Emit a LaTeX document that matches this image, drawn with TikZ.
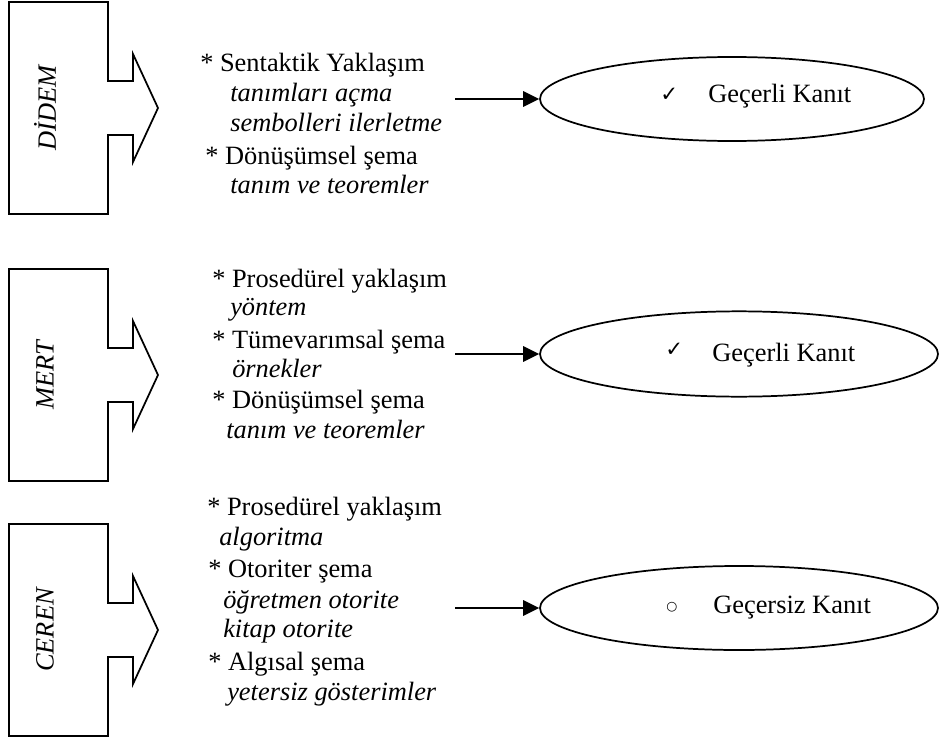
\documentclass[tikz,border=0pt]{standalone}
\usepackage{fontspec}
\setmainfont{Liberation Serif}
\newfontfamily\dejavu{DejaVu Sans}
\newfontfamily\dejavubold{DejaVu Sans Bold}
\usetikzlibrary{shapes.geometric,arrows.meta}
\begin{document}
\begin{tikzpicture}[x=0.75pt,y=-0.75pt,
  ln/.style={anchor=base west, inner sep=0pt, font=\fontsize{19.8}{22}\selectfont},
  itl/.style={anchor=base west, inner sep=0pt, font=\fontsize{19.8}{22}\selectfont\itshape},
  namelbl/.style={rotate=90, inner sep=0pt, font=\fontsize{19.8}{22}\selectfont\itshape},
  shapeline/.style={draw=black, line width=1.3pt, line join=miter},
  result/.style={draw=black, line width=1.3pt, ellipse, inner sep=0pt, minimum height=63pt},
  conn/.style={draw=black, line width=1.7pt, -{Triangle[length=12pt,width=11.5pt]}},
  tickmark/.style={anchor=west, inner sep=0pt, font=\dejavubold\fontsize{16}{18}\selectfont},
  ringmark/.style={anchor=west, inner sep=0pt, font=\dejavu\fontsize{9.5}{11}\selectfont},
  blockarrow/.pic={\draw[shapeline] (9,-106) -- (108,-106) -- (108,-27) -- (133,-27) -- (133,-54) -- (158,0) -- (133,54) -- (133,27) -- (108,27) -- (108,106) -- (9,106) -- cycle;}
]
\useasboundingbox (0,0) rectangle (939,742);

% ---------- blocks ----------
\pic at (0,108) {blockarrow};
\pic at (0,375) {blockarrow};
\pic at (0,630) {blockarrow};
\node[namelbl] (nD) at (45,108) {DİDEM};
\node[namelbl] (nM) at (45,375) {MERT};
\node[namelbl] (nC) at (45,630) {CEREN};

% ---------- DİDEM texts ----------
\node[ln]  (d1) at (200,72)  {* Sentaktik Yaklaşım};
\node[itl] (d2) at (230,102) {tanımları açma};
\node[itl] (d3) at (230,132) {sembolleri ilerletme};
\node[ln]  (d4) at (205,164) {* Dönüşümsel şema};
\node[itl] (d5) at (230,193) {tanım ve teoremler};

% ---------- MERT texts ----------
\node[ln]  (m1) at (212,287) {* Prosedürel yaklaşım};
\node[itl] (m2) at (230,315) {yöntem};
\node[ln]  (m3) at (212,348) {* Tümevarımsal şema};
\node[itl] (m4) at (232,377) {örnekler};
\node[ln]  (m5) at (212,408) {* Dönüşümsel şema};
\node[itl] (m6) at (226,438) {tanım ve teoremler};

% ---------- CEREN texts ----------
\node[ln]  (c1) at (207,515) {* Prosedürel yaklaşım};
\node[itl] (c2) at (219,545) {algoritma};
\node[ln]  (c3) at (208,577) {* Otoriter şema};
\node[itl] (c4) at (223,608) {öğretmen otorite};
\node[itl] (c5) at (223,637) {kitap otorite};
\node[ln]  (c6) at (208,670) {* Algısal şema};
\node[itl] (c7) at (227,700) {yetersiz gösterimler};

% ---------- result ellipses ----------
\node[result, minimum width=288pt] (e1) at (732,99) {};
\node[result, minimum width=298.5pt, minimum height=64pt] (e2) at (739,354) {};
\node[result, minimum width=298.5pt] (e3) at (739,608) {};

\node[tickmark] (k1) at (660,95) {✓};
\node[ln]   (t1) at (708,103) {Geçerli Kanıt};
\node[tickmark] (k2) at (665,350) {✓};
\node[ln]   (t2) at (712,361) {Geçerli Kanıt};
\node[ringmark] (k3) at (666,607) {○};
\node[ln]   (t3) at (713,613) {Geçersiz Kanıt};

% ---------- connectors ----------
\coordinate (a1) at (455,99);
\coordinate (a2) at (455,354);
\coordinate (a3) at (455,608);
\draw[conn] (a1) -- (e1.west);
\draw[conn] (a2) -- (e2.west);
\draw[conn] (a3) -- (e3.west);
\end{tikzpicture}
\end{document}
